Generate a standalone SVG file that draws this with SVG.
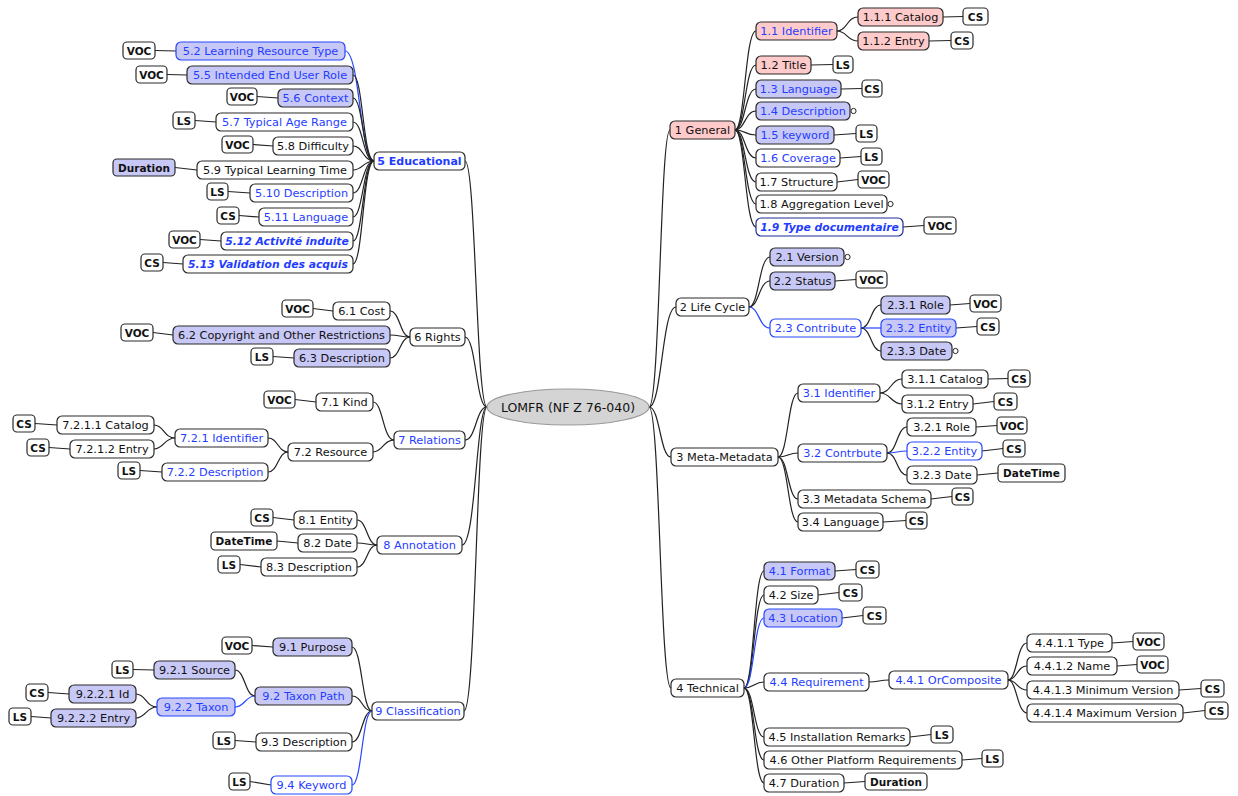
<svg xmlns="http://www.w3.org/2000/svg" width="1238" height="796" viewBox="0 0 1238 796">
<style>
rect{fill:#fff;stroke:#2a2a2a;stroke-width:1.2}
rect.b{fill:#c8c8f6}
rect.p{fill:#ffcaca}
rect.bs{stroke:#2447ff}
rect.nv{stroke:#1c2c9a}
rect.db{fill:#c8c8f6}
text{font-family:"DejaVu Sans","Liberation Sans",sans-serif;font-size:11.3px;fill:#111;text-anchor:middle}
text.u{fill:#1f3dff}
text.bd{font-weight:bold;font-size:11px}
text.bi{font-weight:bold;font-style:italic;font-size:10.8px}
.bg text{font-weight:bold;font-size:10.5px;fill:#111}
#conn path{fill:none;stroke:#222;stroke-width:1.2}
#conn path.bl{stroke:#2447ff}
circle.o{fill:#fff;stroke:#222;stroke-width:1}
</style>
<g id="conn">
<path d="M487,407 C476,407 476,161 465,161"/>
<path d="M487,407 C476,407 476,337 465,337"/>
<path d="M487,407 C476,407 476,440 465,440"/>
<path d="M487,407 C476,407 476,545 462,545"/>
<path d="M487,407 C476,407 476,711 464,711"/>
<path d="M649,407 C660,407 660,130 670,130"/>
<path d="M649,407 C662,407 662,307 676,307"/>
<path d="M649,407 C660,407 660,457 671,457"/>
<path d="M649,407 C660,407 660,688 671,688"/>
<path class="bl" d="M374,161 C360,161 360,51 345,51"/>
<path d="M374,161 C363,161 363,75 353,75"/>
<path d="M374,161 C363,161 363,98 353,98"/>
<path d="M374,161 C363,161 363,122 353,122"/>
<path d="M374,161 C363,161 363,146 353,146"/>
<path d="M374,161 C363,161 363,170 353,170"/>
<path d="M374,161 C363,161 363,193 353,193"/>
<path d="M374,161 C363,161 363,217 353,217"/>
<path d="M374,161 C363,161 363,241 353,241"/>
<path d="M374,161 C363,161 363,264 353,264"/>
<path d="M176,51 L155,50.5"/>
<path d="M187,75 L167,74.5"/>
<path d="M278,98 L257,96.5"/>
<path d="M216,122 L195,120.5"/>
<path d="M273,146 L253,144.5"/>
<path d="M197,170 L175,167.5"/>
<path d="M250,193 L228,191.5"/>
<path d="M259,217 L239,215.5"/>
<path d="M221,241 L200,239.5"/>
<path d="M183,264 L163,262.5"/>
<path d="M410,337 C400,337 400,311 390,311"/>
<path d="M410,337 C400,337 400,335 390,335"/>
<path d="M410,337 C400,337 400,358 390,358"/>
<path d="M333,311 L313,308.5"/>
<path d="M173,335 L153,332.5"/>
<path d="M294,358 L273,356.5"/>
<path d="M394,440 C383,440 383,402 373,402"/>
<path d="M394,440 C383,440 383,452 373,452"/>
<path d="M316,402 L295,399.5"/>
<path d="M288,452 C278,452 278,438 268,438"/>
<path d="M288,452 C278,452 278,472 268,472"/>
<path d="M175,438 C164,438 164,425 154,425"/>
<path d="M175,438 C164,438 164,449 154,449"/>
<path d="M57,425 L35,423.5"/>
<path d="M70,449 L49,447.5"/>
<path d="M162,472 L140,470.5"/>
<path d="M377,545 C367,545 367,520 357,520"/>
<path d="M377,545 C367,545 367,543 357,543"/>
<path d="M377,545 C367,545 367,567 357,567"/>
<path d="M294,520 L273,517.5"/>
<path d="M298,543 L277,541"/>
<path d="M261,567 L240,564.5"/>
<path d="M372,711 C362,711 362,647 352,647"/>
<path d="M372,711 C362,711 362,696 352,696"/>
<path d="M372,711 C362,711 362,742 352,742"/>
<path class="bl" d="M372,711 C362,711 362,785 352,785"/>
<path d="M273,647 L252,645.5"/>
<path d="M255,696 C245,696 245,670 235,670"/>
<path class="bl" d="M255,696 C245,696 245,707 235,707"/>
<path d="M154,670 L133,669.5"/>
<path d="M157,707 C146,707 146,694 136,694"/>
<path d="M157,707 C146,707 146,718 136,718"/>
<path d="M69,694 L48,692.5"/>
<path d="M51,718 L31,716.5"/>
<path d="M256,742 L235,740.5"/>
<path d="M271,785 L250,781.5"/>
<path d="M735,130 C745,130 745,31 756,31"/>
<path d="M735,130 C745,130 745,65 756,65"/>
<path d="M735,130 C745,130 745,89 756,89"/>
<path d="M735,130 C745,130 745,111 756,111"/>
<path d="M735,130 C745,130 745,135 756,135"/>
<path d="M735,130 C745,130 745,158 756,158"/>
<path d="M735,130 C745,130 745,182 756,182"/>
<path d="M735,130 C745,130 745,204 756,204"/>
<path d="M735,130 C745,130 745,227 756,227"/>
<path d="M837,31 C847,31 847,17 858,17"/>
<path d="M837,31 C847,31 847,41 858,41"/>
<path d="M943,17 L963,16.5"/>
<path d="M929,41 L951,40.5"/>
<path d="M811,65 L833,64.5"/>
<path d="M841,89 L862,88.5"/>
<path d="M834,135 L856,133.5"/>
<path d="M840,158 L861,156.5"/>
<path d="M837,182 L858,179.5"/>
<path d="M903,227 L924,225.5"/>
<path d="M749,307 C759,307 759,257 770,257"/>
<path d="M749,307 C759,307 759,281 770,281"/>
<path class="bl" d="M749,307 C759,307 759,328 770,328"/>
<path d="M835,281 L856,279.5"/>
<path d="M861,328 C871,328 871,305 881,305"/>
<path class="bl" d="M861,328 L881,328"/>
<path d="M861,328 C871,328 871,351 881,351"/>
<path d="M950,305 L970,303.5"/>
<path d="M956,328 L977,326.5"/>
<path d="M778,457 C788,457 788,393 798,393"/>
<path d="M778,457 C788,457 788,453 798,453"/>
<path d="M778,457 C788,457 788,499 798,499"/>
<path d="M778,457 C788,457 788,522 798,522"/>
<path d="M880,393 C891,393 891,379 902,379"/>
<path d="M880,393 C891,393 891,404 902,404"/>
<path d="M988,379 L1008,378.5"/>
<path d="M973,404 L994,401.5"/>
<path d="M887,453 C897,453 897,427 907,427"/>
<path class="bl" d="M887,453 C897,453 897,451 907,451"/>
<path d="M887,453 C897,453 897,475 907,475"/>
<path d="M976,427 L997,425.5"/>
<path d="M982,451 L1003,448.5"/>
<path d="M977,475 L998,473"/>
<path d="M931,499 L952,496.5"/>
<path d="M883,522 L906,520.5"/>
<path d="M744,688 C754,688 754,571 764,571"/>
<path d="M744,688 C754,688 754,595 764,595"/>
<path class="bl" d="M744,688 C754,688 754,618 764,618"/>
<path d="M744,688 C754,688 754,682 764,682"/>
<path d="M744,688 C754,688 754,737 764,737"/>
<path d="M744,688 C754,688 754,760 764,760"/>
<path d="M744,688 C754,688 754,783 764,783"/>
<path d="M835,571 L856,569.5"/>
<path d="M818,595 L839,592.5"/>
<path d="M842,618 L863,615.5"/>
<path d="M869,682 C879,682 879,680 889,680"/>
<path d="M1008,680 C1017,680 1017,643 1027,643"/>
<path d="M1008,680 C1017,680 1017,666 1027,666"/>
<path d="M1008,680 C1017,680 1017,690 1027,690"/>
<path d="M1008,680 C1017,680 1017,713 1027,713"/>
<path d="M1112,643 L1133,641.5"/>
<path d="M1117,666 L1137,664.5"/>
<path d="M1179,690 L1201,688.5"/>
<path d="M1183,713 L1205,710.5"/>
<path d="M910,737 L931,734.5"/>
<path d="M962,760 L982,758.5"/>
<path d="M844,783 L865,781.5"/>
</g>
<g id="root"><ellipse cx="568" cy="407" rx="81" ry="18" fill="#d4d4d4" stroke="#999" stroke-width="1.2"/><text x="568" y="411.5" style="font-size:12.5px">LOMFR (NF Z 76-040)</text></g>
<g id="n5"><rect x="374" y="152" width="91" height="18" rx="5"/><text class="u bd" x="419.5" y="165">5 Educational</text></g>
<g id="n5_2"><rect class="b bs" x="176" y="42" width="169" height="18" rx="5"/><text class="u" x="260.5" y="55">5.2 Learning Resource Type</text></g>
<g id="n5_5"><rect class="b" x="187" y="66" width="166" height="18" rx="5"/><text class="u" x="270" y="79">5.5 Intended End User Role</text></g>
<g id="n5_6"><rect class="b" x="278" y="89" width="75" height="18" rx="5"/><text class="u" x="315.5" y="102">5.6 Context</text></g>
<g id="n5_7"><rect x="216" y="113" width="137" height="18" rx="5"/><text class="u" x="284.5" y="126">5.7 Typical Age Range</text></g>
<g id="n5_8"><rect x="273" y="137" width="80" height="18" rx="5"/><text x="313" y="150">5.8 Difficulty</text></g>
<g id="n5_9"><rect x="197" y="161" width="156" height="18" rx="5"/><text x="275" y="174">5.9 Typical Learning Time</text></g>
<g id="n5_10"><rect x="250" y="184" width="103" height="18" rx="5"/><text class="u" x="301.5" y="197">5.10 Description</text></g>
<g id="n5_11"><rect x="259" y="208" width="94" height="18" rx="5"/><text class="u" x="306" y="221">5.11 Language</text></g>
<g id="n5_12"><rect x="221" y="232" width="132" height="18" rx="5"/><text class="u bi" x="287" y="245">5.12 Activité induite</text></g>
<g id="n5_13"><rect x="183" y="255" width="170" height="18" rx="5"/><text class="u bi" x="268" y="268">5.13 Validation des acquis</text></g>
<g id="v5_2" class="bg"><rect x="123" y="42" width="32" height="17" rx="4"/><text x="139" y="54.5">VOC</text></g>
<g id="v5_5" class="bg"><rect x="136" y="66" width="31" height="17" rx="4"/><text x="151.5" y="78.5">VOC</text></g>
<g id="v5_6" class="bg"><rect x="227" y="88" width="30" height="17" rx="4"/><text x="242" y="100.5">VOC</text></g>
<g id="v5_7" class="bg"><rect x="173" y="112" width="22" height="17" rx="4"/><text x="184" y="124.5">LS</text></g>
<g id="v5_8" class="bg"><rect x="222" y="136" width="31" height="17" rx="4"/><text x="237.5" y="148.5">VOC</text></g>
<g id="v5_9" class="bg"><rect class="db" x="113" y="159" width="62" height="17" rx="4"/><text x="144" y="171.5">Duration</text></g>
<g id="v5_10" class="bg"><rect x="207" y="183" width="21" height="17" rx="4"/><text x="217.5" y="195.5">LS</text></g>
<g id="v5_11" class="bg"><rect x="217" y="207" width="22" height="17" rx="4"/><text x="228" y="219.5">CS</text></g>
<g id="v5_12" class="bg"><rect x="169" y="231" width="31" height="17" rx="4"/><text x="184.5" y="243.5">VOC</text></g>
<g id="v5_13" class="bg"><rect x="141" y="254" width="22" height="17" rx="4"/><text x="152" y="266.5">CS</text></g>
<g id="n6"><rect x="410" y="328" width="55" height="18" rx="5"/><text x="437.5" y="341">6 Rights</text></g>
<g id="n6_1"><rect x="333" y="302" width="57" height="18" rx="5"/><text x="361.5" y="315">6.1 Cost</text></g>
<g id="n6_2"><rect class="b" x="173" y="326" width="217" height="18" rx="5"/><text x="281.5" y="339">6.2 Copyright and Other Restrictions</text></g>
<g id="n6_3"><rect class="b" x="294" y="349" width="96" height="18" rx="5"/><text x="342" y="362">6.3 Description</text></g>
<g id="v6_1" class="bg"><rect x="282" y="300" width="31" height="17" rx="4"/><text x="297.5" y="312.5">VOC</text></g>
<g id="v6_2" class="bg"><rect x="121" y="324" width="32" height="17" rx="4"/><text x="137" y="336.5">VOC</text></g>
<g id="v6_3" class="bg"><rect x="251" y="348" width="22" height="17" rx="4"/><text x="262" y="360.5">LS</text></g>
<g id="n7"><rect x="394" y="431" width="71" height="18" rx="5"/><text class="u" x="429.5" y="444">7 Relations</text></g>
<g id="n7_1"><rect x="316" y="393" width="57" height="18" rx="5"/><text x="344.5" y="406">7.1 Kind</text></g>
<g id="n7_2"><rect x="288" y="443" width="85" height="18" rx="5"/><text x="330.5" y="456">7.2 Resource</text></g>
<g id="n7_2_1"><rect x="175" y="429" width="93" height="18" rx="5"/><text class="u" x="221.5" y="442">7.2.1 Identifier</text></g>
<g id="n7_2_1_1"><rect x="57" y="416" width="97" height="18" rx="5"/><text x="105.5" y="429">7.2.1.1 Catalog</text></g>
<g id="n7_2_1_2"><rect x="70" y="440" width="84" height="18" rx="5"/><text x="112" y="453">7.2.1.2 Entry</text></g>
<g id="n7_2_2"><rect x="162" y="463" width="106" height="18" rx="5"/><text class="u" x="215" y="476">7.2.2 Description</text></g>
<g id="v7_1" class="bg"><rect x="264" y="391" width="31" height="17" rx="4"/><text x="279.5" y="403.5">VOC</text></g>
<g id="v7_2_1_1" class="bg"><rect x="13" y="415" width="22" height="17" rx="4"/><text x="24" y="427.5">CS</text></g>
<g id="v7_2_1_2" class="bg"><rect x="27" y="439" width="22" height="17" rx="4"/><text x="38" y="451.5">CS</text></g>
<g id="v7_2_2" class="bg"><rect x="118" y="462" width="22" height="17" rx="4"/><text x="129" y="474.5">LS</text></g>
<g id="n8"><rect x="377" y="536" width="85" height="18" rx="5"/><text class="u" x="419.5" y="549">8 Annotation</text></g>
<g id="n8_1"><rect x="294" y="511" width="63" height="18" rx="5"/><text x="325.5" y="524">8.1 Entity</text></g>
<g id="n8_2"><rect x="298" y="534" width="59" height="18" rx="5"/><text x="327.5" y="547">8.2 Date</text></g>
<g id="n8_3"><rect x="261" y="558" width="96" height="18" rx="5"/><text x="309" y="571">8.3 Description</text></g>
<g id="v8_1" class="bg"><rect x="251" y="509" width="22" height="17" rx="4"/><text x="262" y="521.5">CS</text></g>
<g id="v8_2" class="bg"><rect x="211" y="532" width="66" height="18" rx="4"/><text x="244" y="545">DateTime</text></g>
<g id="v8_3" class="bg"><rect x="218" y="556" width="22" height="17" rx="4"/><text x="229" y="568.5">LS</text></g>
<g id="n9"><rect x="372" y="702" width="92" height="18" rx="5"/><text class="u" x="418" y="715">9 Classification</text></g>
<g id="n9_1"><rect class="b" x="273" y="638" width="79" height="18" rx="5"/><text x="312.5" y="651">9.1 Purpose</text></g>
<g id="n9_2"><rect class="b" x="255" y="687" width="97" height="18" rx="5"/><text class="u" x="303.5" y="700">9.2 Taxon Path</text></g>
<g id="n9_2_1"><rect class="b" x="154" y="661" width="81" height="18" rx="5"/><text x="194.5" y="674">9.2.1 Source</text></g>
<g id="n9_2_2"><rect class="b bs" x="157" y="698" width="78" height="18" rx="5"/><text class="u" x="196" y="711">9.2.2 Taxon</text></g>
<g id="n9_2_2_1"><rect class="b" x="69" y="685" width="67" height="18" rx="5"/><text x="102.5" y="698">9.2.2.1 Id</text></g>
<g id="n9_2_2_2"><rect class="b" x="51" y="709" width="85" height="18" rx="5"/><text x="93.5" y="722">9.2.2.2 Entry</text></g>
<g id="n9_3"><rect x="256" y="733" width="96" height="18" rx="5"/><text x="304" y="746">9.3 Description</text></g>
<g id="n9_4"><rect class="bs" x="271" y="776" width="81" height="18" rx="5"/><text class="u" x="311.5" y="789">9.4 Keyword</text></g>
<g id="v9_1" class="bg"><rect x="222" y="637" width="30" height="17" rx="4"/><text x="237" y="649.5">VOC</text></g>
<g id="v9_2_1" class="bg"><rect x="112" y="661" width="21" height="17" rx="4"/><text x="122.5" y="673.5">LS</text></g>
<g id="v9_2_2_1" class="bg"><rect x="26" y="684" width="22" height="17" rx="4"/><text x="37" y="696.5">CS</text></g>
<g id="v9_2_2_2" class="bg"><rect x="9" y="708" width="22" height="17" rx="4"/><text x="20" y="720.5">LS</text></g>
<g id="v9_3" class="bg"><rect x="213" y="732" width="22" height="17" rx="4"/><text x="224" y="744.5">LS</text></g>
<g id="v9_4" class="bg"><rect x="229" y="773" width="21" height="17" rx="4"/><text x="239.5" y="785.5">LS</text></g>
<g id="n1"><rect class="p" x="670" y="121" width="65" height="18" rx="5"/><text x="702.5" y="134">1 General</text></g>
<g id="n1_1"><rect class="p" x="756" y="22" width="81" height="18" rx="5"/><text class="u" x="796.5" y="35">1.1 Identifier</text></g>
<g id="n1_1_1"><rect class="p" x="858" y="8" width="85" height="18" rx="5"/><text x="900.5" y="21">1.1.1 Catalog</text></g>
<g id="n1_1_2"><rect class="p" x="858" y="32" width="71" height="18" rx="5"/><text x="893.5" y="45">1.1.2 Entry</text></g>
<g id="n1_2"><rect class="p" x="756" y="56" width="55" height="18" rx="5"/><text x="783.5" y="69">1.2 Title</text></g>
<g id="n1_3"><rect class="b" x="756" y="80" width="85" height="18" rx="5"/><text class="u" x="798.5" y="93">1.3 Language</text></g>
<g id="n1_4"><rect class="b" x="756" y="102" width="94" height="18" rx="5"/><text class="u" x="803" y="115">1.4 Description</text><circle class="o" cx="853.5" cy="111" r="2.6"/></g>
<g id="n1_5"><rect class="b" x="756" y="126" width="78" height="18" rx="5"/><text class="u" x="795" y="139">1.5 keyword</text></g>
<g id="n1_6"><rect x="756" y="149" width="84" height="18" rx="5"/><text class="u" x="798" y="162">1.6 Coverage</text></g>
<g id="n1_7"><rect x="756" y="173" width="81" height="18" rx="5"/><text x="796.5" y="186">1.7 Structure</text></g>
<g id="n1_8"><rect x="756" y="195" width="131" height="18" rx="5"/><text x="821.5" y="208">1.8 Aggregation Level</text><circle class="o" cx="890.5" cy="204" r="2.6"/></g>
<g id="n1_9"><rect class="nv" x="756" y="218" width="147" height="18" rx="5"/><text class="u bi" x="829.5" y="231">1.9 Type documentaire</text></g>
<g id="v1_1_1" class="bg"><rect x="963" y="8" width="25" height="17" rx="4"/><text x="975.5" y="20.5">CS</text></g>
<g id="v1_1_2" class="bg"><rect x="951" y="32" width="22" height="17" rx="4"/><text x="962" y="44.5">CS</text></g>
<g id="v1_2" class="bg"><rect x="833" y="56" width="20" height="17" rx="4"/><text x="843" y="68.5">LS</text></g>
<g id="v1_3" class="bg"><rect x="862" y="80" width="20" height="17" rx="4"/><text x="872" y="92.5">CS</text></g>
<g id="v1_5" class="bg"><rect x="856" y="125" width="21" height="17" rx="4"/><text x="866.5" y="137.5">LS</text></g>
<g id="v1_6" class="bg"><rect x="861" y="148" width="21" height="17" rx="4"/><text x="871.5" y="160.5">LS</text></g>
<g id="v1_7" class="bg"><rect x="858" y="171" width="31" height="17" rx="4"/><text x="873.5" y="183.5">VOC</text></g>
<g id="v1_9" class="bg"><rect x="924" y="217" width="32" height="17" rx="4"/><text x="940" y="229.5">VOC</text></g>
<g id="n2"><rect x="676" y="298" width="73" height="18" rx="5"/><text x="712.5" y="311">2 Life Cycle</text></g>
<g id="n2_1"><rect class="b" x="770" y="248" width="74" height="18" rx="5"/><text x="807" y="261">2.1 Version</text><circle class="o" cx="847.5" cy="257" r="2.6"/></g>
<g id="n2_2"><rect class="b" x="770" y="272" width="65" height="18" rx="5"/><text x="802.5" y="285">2.2 Status</text></g>
<g id="n2_3"><rect class="bs" x="770" y="319" width="91" height="18" rx="5"/><text class="u" x="815.5" y="332">2.3 Contribute</text></g>
<g id="n2_3_1"><rect class="b" x="881" y="296" width="69" height="18" rx="5"/><text x="915.5" y="309">2.3.1 Role</text></g>
<g id="n2_3_2"><rect class="b bs" x="881" y="319" width="75" height="18" rx="5"/><text class="u" x="918.5" y="332">2.3.2 Entity</text></g>
<g id="n2_3_3"><rect class="b" x="881" y="342" width="71" height="18" rx="5"/><text x="916.5" y="355">2.3.3 Date</text><circle class="o" cx="955.5" cy="351" r="2.6"/></g>
<g id="v2_2" class="bg"><rect x="856" y="271" width="31" height="17" rx="4"/><text x="871.5" y="283.5">VOC</text></g>
<g id="v2_3_1" class="bg"><rect x="970" y="295" width="31" height="17" rx="4"/><text x="985.5" y="307.5">VOC</text></g>
<g id="v2_3_2" class="bg"><rect x="977" y="318" width="22" height="17" rx="4"/><text x="988" y="330.5">CS</text></g>
<g id="n3"><rect x="671" y="448" width="107" height="18" rx="5"/><text x="724.5" y="461">3 Meta-Metadata</text></g>
<g id="n3_1"><rect x="798" y="384" width="82" height="18" rx="5"/><text class="u" x="839" y="397">3.1 Identifier</text></g>
<g id="n3_1_1"><rect x="902" y="370" width="86" height="18" rx="5"/><text x="945" y="383">3.1.1 Catalog</text></g>
<g id="n3_1_2"><rect x="902" y="395" width="71" height="18" rx="5"/><text x="937.5" y="408">3.1.2 Entry</text></g>
<g id="n3_2"><rect x="798" y="444" width="89" height="18" rx="5"/><text class="u" x="842.5" y="457">3.2 Contrbute</text></g>
<g id="n3_2_1"><rect x="907" y="418" width="69" height="18" rx="5"/><text x="941.5" y="431">3.2.1 Role</text></g>
<g id="n3_2_2"><rect class="bs" x="907" y="442" width="75" height="18" rx="5"/><text class="u" x="944.5" y="455">3.2.2 Entity</text></g>
<g id="n3_2_3"><rect x="907" y="466" width="70" height="18" rx="5"/><text x="942" y="479">3.2.3 Date</text></g>
<g id="n3_3"><rect x="798" y="490" width="133" height="18" rx="5"/><text x="864.5" y="503">3.3 Metadata Schema</text></g>
<g id="n3_4"><rect x="798" y="513" width="85" height="18" rx="5"/><text x="840.5" y="526">3.4 Language</text></g>
<g id="v3_1_1" class="bg"><rect x="1008" y="370" width="22" height="17" rx="4"/><text x="1019" y="382.5">CS</text></g>
<g id="v3_1_2" class="bg"><rect x="994" y="393" width="23" height="17" rx="4"/><text x="1005.5" y="405.5">CS</text></g>
<g id="v3_2_1" class="bg"><rect x="997" y="417" width="30" height="17" rx="4"/><text x="1012" y="429.5">VOC</text></g>
<g id="v3_2_2" class="bg"><rect x="1003" y="440" width="22" height="17" rx="4"/><text x="1014" y="452.5">CS</text></g>
<g id="v3_2_3" class="bg"><rect x="998" y="464" width="67" height="18" rx="4"/><text x="1031.5" y="477">DateTime</text></g>
<g id="v3_3" class="bg"><rect x="952" y="488" width="21" height="17" rx="4"/><text x="962.5" y="500.5">CS</text></g>
<g id="v3_4" class="bg"><rect x="906" y="512" width="21" height="17" rx="4"/><text x="916.5" y="524.5">CS</text></g>
<g id="n4"><rect x="671" y="679" width="73" height="18" rx="5"/><text x="707.5" y="692">4 Technical</text></g>
<g id="n4_1"><rect class="b" x="764" y="562" width="71" height="18" rx="5"/><text class="u" x="799.5" y="575">4.1 Format</text></g>
<g id="n4_2"><rect x="764" y="586" width="54" height="18" rx="5"/><text x="791" y="599">4.2 Size</text></g>
<g id="n4_3"><rect class="b bs" x="764" y="609" width="78" height="18" rx="5"/><text class="u" x="803" y="622">4.3 Location</text></g>
<g id="n4_4"><rect x="764" y="673" width="105" height="18" rx="5"/><text class="u" x="816.5" y="686">4.4 Requirement</text></g>
<g id="n4_4_1"><rect x="889" y="671" width="119" height="18" rx="5"/><text class="u" x="948.5" y="684">4.4.1 OrComposite</text></g>
<g id="n4_4_1_1"><rect x="1027" y="634" width="85" height="18" rx="5"/><text x="1069.5" y="647">4.4.1.1 Type</text></g>
<g id="n4_4_1_2"><rect x="1027" y="657" width="90" height="18" rx="5"/><text x="1072" y="670">4.4.1.2 Name</text></g>
<g id="n4_4_1_3"><rect x="1027" y="681" width="152" height="18" rx="5"/><text x="1103" y="694">4.4.1.3 Minimum Version</text></g>
<g id="n4_4_1_4"><rect x="1027" y="704" width="156" height="18" rx="5"/><text x="1105" y="717">4.4.1.4 Maximum Version</text></g>
<g id="n4_5"><rect x="764" y="728" width="146" height="18" rx="5"/><text x="837" y="741">4.5 Installation Remarks</text></g>
<g id="n4_6"><rect x="764" y="751" width="198" height="18" rx="5"/><text x="863" y="764">4.6 Other Platform Requirements</text></g>
<g id="n4_7"><rect x="764" y="774" width="80" height="18" rx="5"/><text x="804" y="787">4.7 Duration</text></g>
<g id="v4_1" class="bg"><rect x="856" y="561" width="23" height="17" rx="4"/><text x="867.5" y="573.5">CS</text></g>
<g id="v4_2" class="bg"><rect x="839" y="584" width="23" height="17" rx="4"/><text x="850.5" y="596.5">CS</text></g>
<g id="v4_3" class="bg"><rect x="863" y="607" width="23" height="17" rx="4"/><text x="874.5" y="619.5">CS</text></g>
<g id="v4_4_1_1" class="bg"><rect x="1133" y="633" width="31" height="17" rx="4"/><text x="1148.5" y="645.5">VOC</text></g>
<g id="v4_4_1_2" class="bg"><rect x="1137" y="656" width="31" height="17" rx="4"/><text x="1152.5" y="668.5">VOC</text></g>
<g id="v4_4_1_3" class="bg"><rect x="1201" y="680" width="23" height="17" rx="4"/><text x="1212.5" y="692.5">CS</text></g>
<g id="v4_4_1_4" class="bg"><rect x="1205" y="702" width="23" height="17" rx="4"/><text x="1216.5" y="714.5">CS</text></g>
<g id="v4_5" class="bg"><rect x="931" y="726" width="22" height="17" rx="4"/><text x="942" y="738.5">LS</text></g>
<g id="v4_6" class="bg"><rect x="982" y="750" width="21" height="17" rx="4"/><text x="992.5" y="762.5">LS</text></g>
<g id="v4_7" class="bg"><rect x="865" y="773" width="62" height="17" rx="4"/><text x="896" y="785.5">Duration</text></g>
</svg>
